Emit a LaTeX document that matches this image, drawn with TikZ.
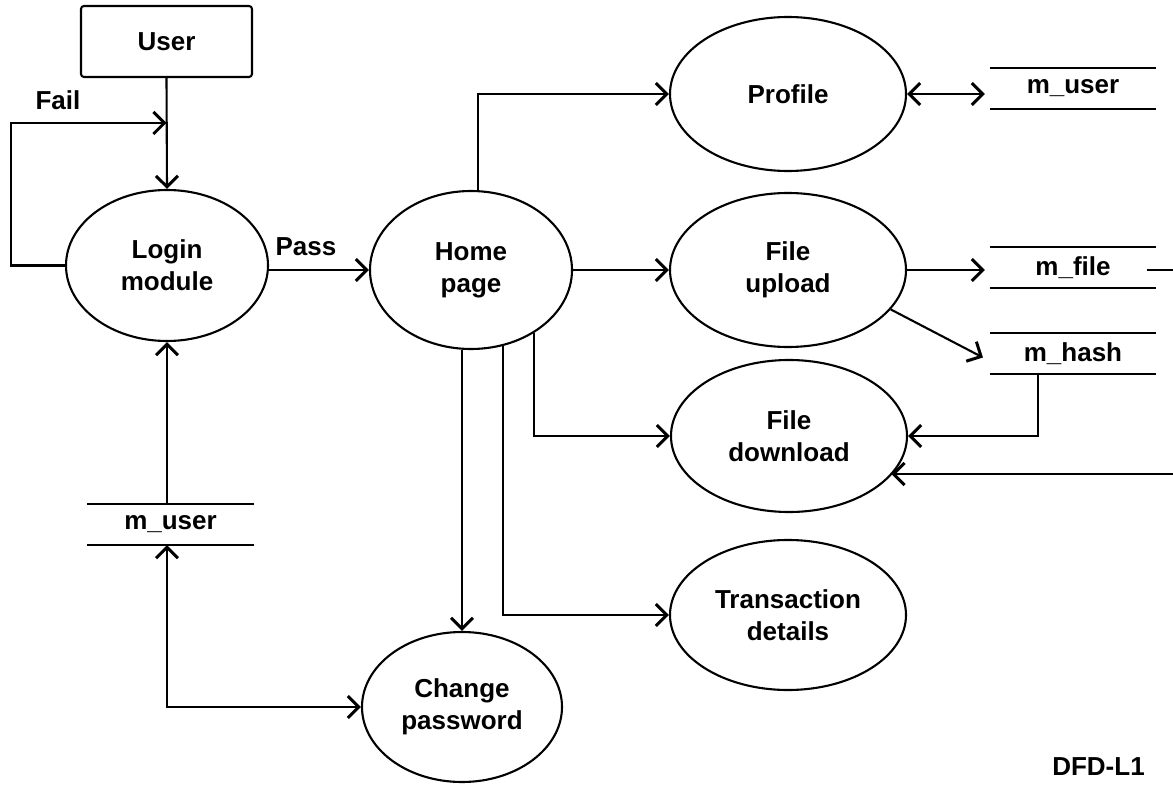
\documentclass[tikz,border=0pt]{standalone}
\usepackage{fontspec}
\setmainfont{Liberation Sans}
\usetikzlibrary{shapes.geometric,arrows.meta,calc}
\begin{document}
\begin{tikzpicture}[x=1pt,y=-1pt,
  line width=2.1pt,
  every node/.style={font=\bfseries\fontsize{26}{32}\selectfont, align=center},
  proc/.style={ellipse,draw,inner sep=0pt},
  extent/.style={draw,rounded corners=3pt,minimum width=171pt,minimum height=71pt,inner sep=0pt},
  store/.style={minimum width=164pt,minimum height=39pt,inner sep=0pt},
  flow/.style={-{Straight Barb[length=11pt,width=22pt,line width=3pt]}},
  bothway/.style={{Straight Barb[length=11pt,width=22pt,line width=3pt]}-{Straight Barb[length=11pt,width=22pt,line width=3pt]}},
  lbl/.style={anchor=base,inner sep=0pt}
]
\path[use as bounding box, fill=white] (0,0) rectangle (1173,786);

% nodes
\node[extent] (user) at (166.5,41.5) {User};
\node[proc,minimum width=202pt,minimum height=151pt] (login) at (167,265.5) {Login\\module};
\node[proc,minimum width=202pt,minimum height=158pt] (home) at (471,270) {Home\\page};
\node[proc,minimum width=236pt,minimum height=154pt] (prof) at (788,94) {Profile};
\node[proc,minimum width=236pt,minimum height=154pt] (fup) at (788,270) {File\\upload};
\node[proc,minimum width=236pt,minimum height=152pt] (fdown) at (789,436) {File\\download};
\node[proc,minimum width=236pt,minimum height=150pt] (trans) at (788,615) {Transaction\\details};
\node[proc,minimum width=200pt,minimum height=150pt] (cp) at (462,707) {Change\\password};

\node[store] (ustore) at (1073,88.5) {m\_user};
\node[store] (fstore) at (1073,267.5) {m\_file};
\node[store] (hstore) at (1073,353.5) {m\_hash};
\node[store,minimum width=165pt] (lstore) at (170.5,524.5) {m\_user};
\foreach \s in {ustore,fstore,hstore,lstore}{
  \draw (\s.north west) -- (\s.north east);
  \draw (\s.south west) -- (\s.south east);
}

\node[lbl] (fail) at (58,110) {Fail};
\node[lbl] (pass) at (306,256) {Pass};
\node[lbl] (title) at (1098.5,775) {DFD-L1};

\coordinate (fj) at (user.south |- 0,123);
\coordinate (e1) at (1173,270);
\coordinate (e2) at (1173,474);

% connectors
\draw[flow] (user.south) -- (login.north);
\draw[flow] (login.west) -- ++(-54,0) |- (fj);
\draw[flow] (login.east |- home.west) -- (home.west);
\draw[flow] (home.85) |- (prof.west);
\draw[flow] (home.east) -- (fup.west);
\draw[flow] (home.-45) |- (fdown.west);
\draw[flow] (home.-67) |- (trans.west);
\draw[flow] (home.south -| cp.north) -- (cp.north);
\draw[bothway,shorten >=5pt] (prof.east) -- (prof.east -| ustore.west);
\draw[flow,shorten >=5pt] (fup.east) -- (fup.east -| fstore.west);
\draw[flow] (fup.-21) -- ($(hstore.west)+(-7,4)$);
\draw[flow] ($(hstore.south west)!0.287!(hstore.south east)$) |- (fdown.east);
\draw ($(fup.east -| fstore.east)+(-9,0)$) -- (fup.east -| e1);
\draw[flow] (e2) -- (e2 -| fdown.-21);
\draw[flow] (lstore.north -| login.south) -- (login.south);
\draw[bothway] (lstore.south -| login.south) |- (cp.west);
\end{tikzpicture}
\end{document}
